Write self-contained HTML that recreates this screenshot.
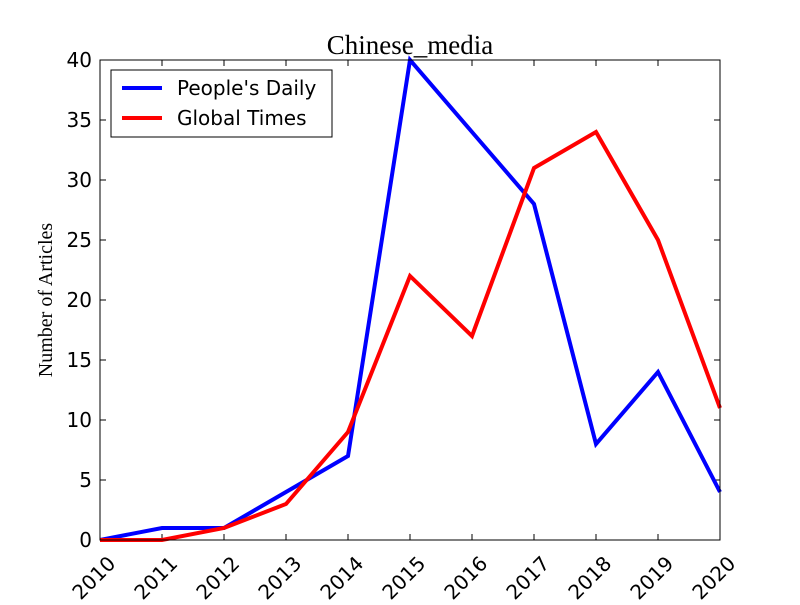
<!DOCTYPE html>
<html><head><meta charset="utf-8"><style>
html,body{margin:0;padding:0;background:#fff;}
svg text{font-family:"DejaVu Sans","Liberation Sans",sans-serif;}
</style></head><body>
<svg id="chart" width="800" height="600" xmlns="http://www.w3.org/2000/svg">
<rect x="0" y="0" width="800" height="600" fill="#fff"/>
<text x="410" y="54" text-anchor="middle" font-size="27" style="font-family:'Liberation Serif',serif">Chinese_media</text>
<text transform="translate(52,300) rotate(-90)" text-anchor="middle" font-size="20" style="font-family:'Liberation Serif',serif">Number of Articles</text>
<g id="marks"></g>
<rect x="100" y="60" width="620" height="480" fill="none" stroke="#000" stroke-width="1"/>
<g>
<rect x="111" y="70" width="221" height="67" fill="#fff" stroke="#000" stroke-width="1"/>
<line x1="122" y1="88" x2="162" y2="88" stroke="#0000ff" stroke-width="4"/>
<text x="177" y="95" font-size="20">People's Daily</text>
<line x1="122" y1="118" x2="162" y2="118" stroke="#ff0000" stroke-width="4"/>
<text x="177" y="125" font-size="20">Global Times</text>
</g>
</svg>
<script>
const years = [2010,2011,2012,2013,2014,2015,2016,2017,2018,2019,2020];
const peoplesDaily = [0,1,1,4,7,40,34,28,8,14,4];
const globalTimes = [0,0,1,3,9,22,17,31,34,25,11];
const yTicks = [0,5,10,15,20,25,30,35,40];
const NS = "http://www.w3.org/2000/svg";
const X0=100,X1=720,Y0=540,Y1=60;
function xs(v){return X0+(v-years[0])/(years[years.length-1]-years[0])*(X1-X0);}
function ys(v){return Y0-(v-0)/(40-0)*(Y0-Y1);}
const g=document.getElementById('marks');
function mk(tag,attrs){const e=document.createElementNS(NS,tag);for(const k in attrs)e.setAttribute(k,attrs[k]);g.appendChild(e);return e;}
yTicks.forEach(t=>{
  const y=ys(t);
  let l=mk('line',{x1:X0,y1:y,x2:X0+6,y2:y,stroke:'#000'});
  
  
  l=mk('line',{x1:X1-6,y1:y,x2:X1,y2:y,stroke:'#000'});
  
  
  const tx=mk('text',{x:X0-8,y:y+7,'text-anchor':'end','font-size':20});
  tx.textContent=t;
  
  
});
years.forEach(yr=>{
  const x=xs(yr);
  let l=mk('line',{x1:x,y1:Y0,x2:x,y2:Y0-6,stroke:'#000'});
  
  
  l=mk('line',{x1:x,y1:Y1,x2:x,y2:Y1+6,stroke:'#000'});
  
  
  const tx=mk('text',{transform:`translate(${x+6},${Y0+14}) rotate(-45)`,'text-anchor':'end','font-size':20,'dominant-baseline':'hanging'});
  tx.textContent=yr;
  
  
});
function series(vals,color,name){
  const pts=vals.map((v,i)=>xs(years[i])+','+ys(v)).join(' ');
  const p=mk('polyline',{points:pts,fill:'none',stroke:color,'stroke-width':4,'stroke-linejoin':'miter'});
  
  
}
series(peoplesDaily,'#0000ff','line-peoples-daily');
series(globalTimes,'#ff0000','line-global-times');
</script>
</body></html>
